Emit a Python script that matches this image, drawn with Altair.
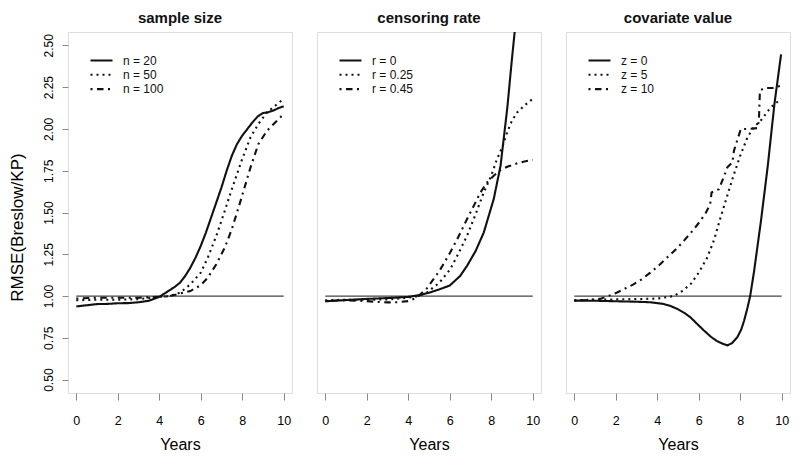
import altair as alt
import pandas as pd

FONT = "Liberation Sans"
INK = "#111111"
FRAME = "#555555"

X_TICKS = [0, 2, 4, 6, 8, 10]
Y_TICKS = [0.5, 0.75, 1.0, 1.25, 1.5, 1.75, 2.0, 2.25, 2.5]
REF_Y = 1.0
REF_X = [0, 10]

# ---------------- panel 1 : sample size ----------------
P1_TITLE = "sample size"
P1_LABELS = ["n = 20", "n = 50", "n = 100"]
P1_A_X = [0, 0.5, 1, 1.5, 2, 2.5, 3, 3.5, 4, 4.25, 4.5, 4.75, 5, 5.25, 5.5, 5.75,
          6, 6.25, 6.5, 6.75, 7, 7.25, 7.5, 7.75, 8, 8.25, 8.5, 8.75, 9, 9.25, 9.5, 9.75, 10]
P1_A_Y = [0.938, 0.945, 0.952, 0.953, 0.957, 0.958, 0.963, 0.972, 0.995, 1.015, 1.035, 1.055,
          1.08, 1.12, 1.17, 1.23, 1.30, 1.38, 1.47, 1.56, 1.65, 1.75, 1.84, 1.91, 1.96, 2.0,
          2.04, 2.075, 2.095, 2.10, 2.11, 2.125, 2.135]
P1_B_X = [0, 1, 2, 3, 4, 4.5, 5, 5.5, 6, 6.34, 6.75, 7.16, 7.5, 7.97, 8.4, 8.78, 9.2, 9.6, 10]
P1_B_Y = [0.975, 0.978, 0.978, 0.982, 0.995, 1.0, 1.02, 1.07, 1.14, 1.23, 1.36, 1.51, 1.64,
          1.81, 1.95, 2.03, 2.10, 2.14, 2.18]
P1_C_X = [0, 1, 2, 3, 4, 4.5, 5, 5.5, 6, 6.34, 6.75, 7.16, 7.5, 7.97, 8.4, 8.78, 9.2, 9.6, 10]
P1_C_Y = [0.985, 0.99, 0.99, 0.99, 0.995, 1.0, 1.015, 1.03, 1.065, 1.11, 1.19, 1.29, 1.40,
          1.59, 1.77, 1.91, 1.99, 2.04, 2.09]

# ---------------- panel 2 : censoring rate ----------------
P2_TITLE = "censoring rate"
P2_LABELS = ["r = 0", "r = 0.25", "r = 0.45"]
P2_A_X = [0, 1, 2, 3, 4, 4.5, 5, 5.5, 6, 6.5, 6.83, 7.25, 7.64, 8.12, 8.45, 8.77, 9.0, 9.13, 9.25]
P2_A_Y = [0.969, 0.976, 0.983, 0.988, 0.995, 1.005, 1.02, 1.04, 1.063, 1.12, 1.18, 1.27, 1.38,
          1.58, 1.78, 2.12, 2.42, 2.58, 2.75]
P2_B_X = [0, 1, 2, 3, 4, 4.5, 4.89, 5.5, 6.02, 6.4, 6.83, 7.25, 7.64, 8.0, 8.28, 8.53, 8.77,
          9.0, 9.26, 9.6, 10]
P2_B_Y = [0.975, 0.978, 0.978, 0.98, 0.99, 1.0, 1.02, 1.08, 1.16, 1.25, 1.36, 1.49, 1.62,
          1.72, 1.82, 1.89, 1.98, 2.05, 2.10, 2.14, 2.18]
P2_C_X = [0, 1, 2, 2.5, 3, 3.5, 4, 4.4, 4.89, 5.5, 6.02, 6.4, 6.83, 7.2, 7.48, 7.8, 8.12,
          8.45, 8.8, 9.26, 9.6, 10]
P2_C_Y = [0.97, 0.975, 0.97, 0.965, 0.962, 0.963, 0.97, 0.99, 1.045, 1.15, 1.26, 1.35, 1.46,
          1.55, 1.62, 1.68, 1.72, 1.755, 1.775, 1.795, 1.805, 1.815]

# ---------------- panel 3 : covariate value ----------------
P3_TITLE = "covariate value"
P3_LABELS = ["z = 0", "z = 5", "z = 10"]
P3_A_X = [0, 1, 2, 3, 3.66, 4.3, 4.65, 4.95, 5.3, 5.6, 5.95, 6.25, 6.6, 6.89, 7.15, 7.38,
          7.6, 7.86, 8.05, 8.19, 8.35, 8.48, 8.67, 9.0, 9.32, 9.65, 9.97]
P3_A_Y = [0.973, 0.972, 0.969, 0.966, 0.963, 0.953, 0.94, 0.924, 0.90, 0.873, 0.83, 0.794,
          0.755, 0.73, 0.715, 0.705, 0.718, 0.754, 0.80, 0.854, 0.93, 1.0, 1.15, 1.45, 1.77,
          2.15, 2.446]
P3_B_X = [0, 1, 2, 3, 4, 4.79, 5.2, 5.6, 6.0, 6.41, 6.75, 7.05, 7.4, 7.7, 8.0, 8.35, 8.65,
          8.99, 9.48, 9.97]
P3_B_Y = [0.975, 0.978, 0.98, 0.982, 0.985, 1.0, 1.03, 1.07, 1.14, 1.23, 1.34, 1.47, 1.61,
          1.73, 1.84, 1.95, 2.01, 2.05, 2.13, 2.18]
P3_C_X = [0, 0.6, 1.23, 1.6, 2.04, 2.45, 2.85, 3.25, 3.66, 4.05, 4.47, 4.9, 5.28, 5.7, 6.08,
          6.35, 6.55, 6.62, 6.97, 7.2, 7.38, 7.62, 7.7, 8.03, 8.43, 8.83, 8.9, 8.95, 9.16,
          9.56, 10]
P3_C_Y = [0.973, 0.976, 0.983, 0.998, 1.02, 1.045, 1.07, 1.10, 1.14, 1.18, 1.23, 1.28, 1.33,
          1.39, 1.45, 1.50, 1.55, 1.62, 1.64, 1.71, 1.77, 1.80, 1.87, 2.0, 2.0, 2.005, 2.05,
          2.23, 2.245, 2.245, 2.26]

DASHES = [[1, 0], [2, 4], [2, 4.5, 6.5, 4.5]]

PLOT_W = 224
PLOT_H = 361

x_scale = alt.Scale(domain=[-0.4, 10.4], nice=False, zero=False)
y_scale = alt.Scale(domain=[0.42, 2.58], nice=False, zero=False)

x_axis = alt.Axis(values=X_TICKS, title="Years", domain=False, grid=False,
                  tickSize=7, labelPadding=14, labelFlush=False, labelFontSize=12.5,
                  titleFontSize=16, titleFontWeight="normal", titlePadding=10)
y_axis = alt.Axis(values=Y_TICKS, format=".2f", title="RMSE(Breslow/KP)", domain=False,
                  grid=False, tickSize=6, labelAngle=270, labelAlign="center",
                  labelBaseline="middle", labelPadding=14, labelFlush=False,
                  labelFontSize=12, titleFontSize=17, titleFontWeight="normal",
                  titleBaseline="middle", titleAlign="center", titleAngle=270,
                  titleX=-50.5, titleY=195)


def build(labels, xs, ys):
    rows = []
    for lab, xx, yy in zip(labels, xs, ys):
        for a, b in zip(xx, yy):
            rows.append({"x": a, "y": b, "series": lab})
    return pd.DataFrame(rows)


def panel(title, labels, xs, ys, show_y):
    df = build(labels, xs, ys)
    ref_df = pd.DataFrame({"x": [REF_X[0]], "x2": [REF_X[1]], "y": [REF_Y]})
    yenc = alt.Y("y:Q", scale=y_scale, axis=y_axis if show_y else None)
    xenc = alt.X("x:Q", scale=x_scale, axis=x_axis)
    ref = alt.Chart(ref_df).mark_rule(color="#444444", strokeWidth=1.3).encode(
        x=xenc, x2="x2:Q", y=yenc)
    lines = alt.Chart(df).mark_line(clip=True, color=INK, strokeWidth=2.1).encode(
        x=xenc, y=yenc,
        strokeDash=alt.StrokeDash(
            "series:N",
            scale=alt.Scale(domain=labels, range=DASHES),
            legend=alt.Legend(title=None, orient="none", legendX=26.5, legendY=21.5,
                              padding=0, symbolType="M-2,0H2", symbolSize=121,
                              symbolStrokeWidth=2.1, symbolStrokeColor=INK,
                              symbolFillColor="transparent", labelFont=FONT,
                              labelFontSize=12, labelColor=INK, labelOffset=14.5,
                              rowPadding=1.3)),
    )
    return alt.layer(ref, lines).properties(
        width=PLOT_W, height=PLOT_H,
        title=alt.TitleParams(title, font=FONT, fontSize=15, fontWeight="bold",
                              color=INK, anchor="middle", frame="group", offset=6),
    )


p1 = panel(P1_TITLE, P1_LABELS, [P1_A_X, P1_B_X, P1_C_X], [P1_A_Y, P1_B_Y, P1_C_Y], True)
p2 = panel(P2_TITLE, P2_LABELS, [P2_A_X, P2_B_X, P2_C_X], [P2_A_Y, P2_B_Y, P2_C_Y], False)
p3 = panel(P3_TITLE, P3_LABELS, [P3_A_X, P3_B_X, P3_C_X], [P3_A_Y, P3_B_Y, P3_C_Y], False)

chart = (
    alt.hconcat(p1, p2, p3, spacing=23)
    .resolve_scale(strokeDash="independent")
    .resolve_legend(strokeDash="independent")
    .properties(padding={"left": 0, "top": 2, "right": 0, "bottom": 0})
    .configure_view(stroke=FRAME, strokeWidth=1.2)
    .configure_axis(labelFont=FONT, titleFont=FONT, labelColor=INK, titleColor=INK,
                    tickColor=FRAME, tickWidth=1.1)
    .configure(background="white")
)

chart.save("out.html", embed_options={"renderer": "svg", "actions": False})
